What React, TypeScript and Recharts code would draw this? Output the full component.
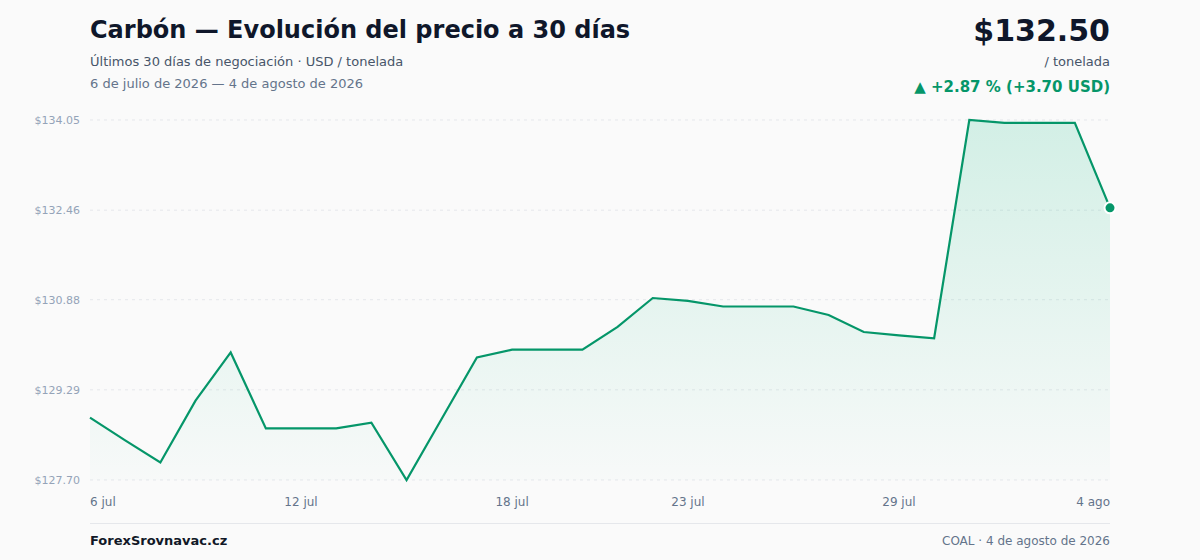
import React from "react";
import { ComposedChart, Area, XAxis, YAxis, CartesianGrid } from "recharts";

const dates: string[] = [
  "6 jul", "7 jul", "8 jul", "9 jul", "10 jul", "11 jul", "12 jul", "13 jul", "14 jul", "15 jul",
  "16 jul", "17 jul", "18 jul", "19 jul", "20 jul", "21 jul", "22 jul", "23 jul", "24 jul", "25 jul",
  "26 jul", "27 jul", "28 jul", "29 jul", "30 jul", "31 jul", "1 ago", "2 ago", "3 ago", "4 ago",
];

const prices: number[] = [
  128.8, 128.4, 128.01, 129.1, 129.95, 128.61, 128.61, 128.61, 128.71, 127.7,
  128.78, 129.86, 130.0, 130.0, 130.0, 130.4, 130.91, 130.86, 130.76, 130.76,
  130.76, 130.61, 130.31, 130.25, 130.2, 134.05, 134.0, 134.0, 134.0, 132.5,
];

const xTickIndexes: number[] = [0, 6, 12, 17, 23, 29];
const yTicks: number[] = [127.7, 129.29, 130.88, 132.46, 134.05];

const data = prices.map((p, i) => ({ i, label: dates[i], price: p }));

const FONT = "'DejaVu Sans', Verdana, sans-serif";
const GREEN = "#059669";

const XTick = (props: any) => {
  const { x, y, payload } = props;
  const idx = payload.value as number;
  let anchor: "start" | "middle" | "end" = "middle";
  if (idx === 0) anchor = "start";
  if (idx === dates.length - 1) anchor = "end";
  return (
    <text x={x} y={y + 18} textAnchor={anchor} fill="#64748b" fontSize={12} fontFamily={FONT}>
      {dates[idx]}
    </text>
  );
};

const YTick = (props: any) => {
  const { y, payload } = props;
  return (
    <text x={80} y={y + 4} textAnchor="end" fill="#94a3b8" fontSize={11} fontFamily={FONT}>
      {"$" + Number(payload.value).toFixed(2)}
    </text>
  );
};

const LastDot = (props: any) => {
  const { cx, cy, index } = props;
  if (index !== prices.length - 1) return null;
  return <circle cx={cx} cy={cy} r={5.5} fill={GREEN} stroke="#ffffff" strokeWidth={2} />;
};

export default function App() {
  const last = prices[prices.length - 1];
  const first = prices[0];
  const diff = last - first;
  const pct = (diff / first) * 100;
  return (
    <div
      style={{
        position: "fixed",
        left: 0,
        top: 0,
        width: 1200,
        height: 560,
        background: "#fafafa",
        fontFamily: FONT,
        overflow: "hidden",
      }}
    >
      <div style={{ position: "absolute", left: 90, top: 16, fontSize: 24, fontWeight: 700, color: "#0f172a" }}>
        Carbón — Evolución del precio a 30 días
      </div>
      <div style={{ position: "absolute", left: 90, top: 54, fontSize: 13, color: "#475569" }}>
        Últimos 30 días de negociación · USD / tonelada
      </div>
      <div style={{ position: "absolute", left: 90, top: 76, fontSize: 13, color: "#64748b" }}>
        6 de julio de 2026 — 4 de agosto de 2026
      </div>
      <div
        style={{
          position: "absolute",
          right: 90,
          top: 13,
          fontSize: 30,
          fontWeight: 700,
          color: "#0f172a",
          textAlign: "right",
        }}
      >
        ${last.toFixed(2)}
      </div>
      <div style={{ position: "absolute", right: 90, top: 54, fontSize: 13, color: "#475569", textAlign: "right" }}>
        / tonelada
      </div>
      <div
        style={{
          position: "absolute",
          right: 90,
          top: 78,
          fontSize: 15,
          fontWeight: 700,
          color: GREEN,
          textAlign: "right",
        }}
      >
        ▲ +{pct.toFixed(2)} % (+{diff.toFixed(2)} USD)
      </div>

      <div style={{ position: "absolute", left: 0, top: 0 }}>
        <ComposedChart width={1200} height={560} data={data} margin={{ top: 120, right: 90, bottom: 50, left: 30 }}>
          <defs>
            <linearGradient id="areaFill" x1="0" y1="0" x2="0" y2="1">
              <stop offset="0%" stopColor="#10b981" stopOpacity={0.28} />
              <stop offset="100%" stopColor="#10b981" stopOpacity={0.02} />
            </linearGradient>
          </defs>
          <CartesianGrid vertical={false} stroke="#e5e7eb" strokeDasharray="3 4" />
          <XAxis
            dataKey="i"
            type="number"
            domain={[0, dates.length - 1]}
            ticks={xTickIndexes}
            tick={<XTick />}
            axisLine={false}
            tickLine={false}
            height={30}
            interval={0}
          />
          <YAxis
            type="number"
            domain={[yTicks[0], yTicks[yTicks.length - 1]]}
            ticks={yTicks}
            tick={<YTick />}
            axisLine={false}
            tickLine={false}
            width={60}
            interval={0}
          />
          <Area
            type="linear"
            dataKey="price"
            stroke={GREEN}
            strokeWidth={2.2}
            fill="url(#areaFill)"
            dot={<LastDot />}
            activeDot={false}
            isAnimationActive={false}
          />
        </ComposedChart>
      </div>

      <div style={{ position: "absolute", left: 90, top: 523, width: 1020, height: 1, background: "#e5e7eb" }} />
      <div style={{ position: "absolute", left: 90, top: 533, fontSize: 13, fontWeight: 700, color: "#111827" }}>
        ForexSrovnavac.cz
      </div>
      <div style={{ position: "absolute", right: 90, top: 534, fontSize: 12, color: "#64748b", textAlign: "right" }}>
        COAL · 4 de agosto de 2026
      </div>
    </div>
  );
}
